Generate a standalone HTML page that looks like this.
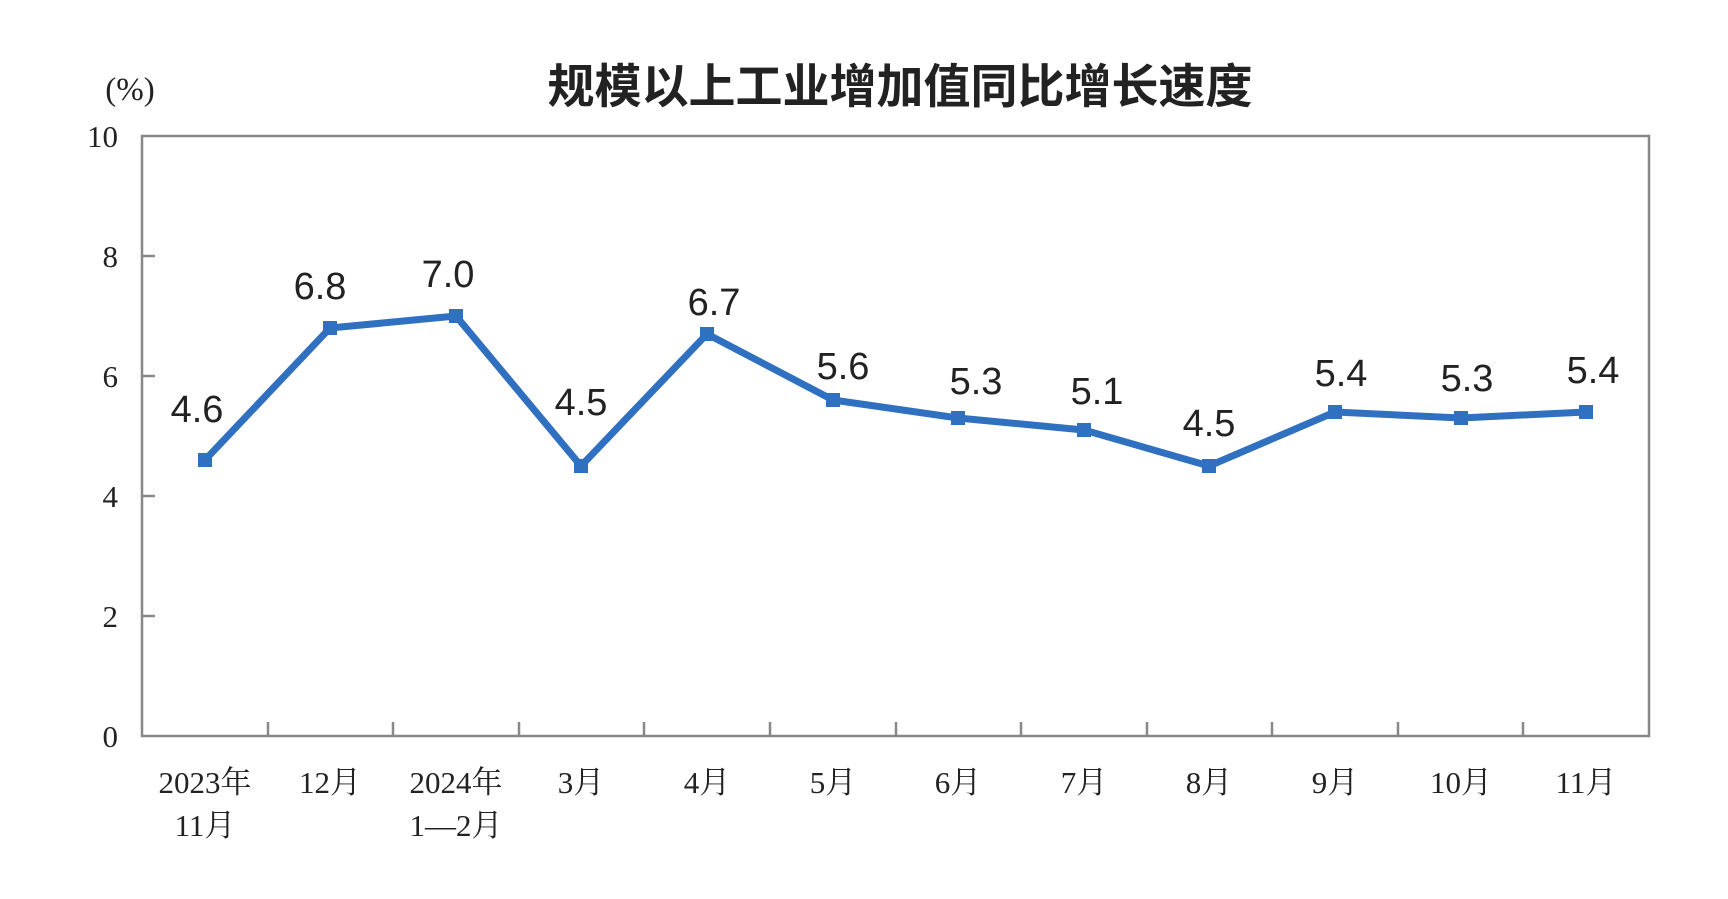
<!DOCTYPE html>
<html><head><meta charset="utf-8"><style>body{margin:0;background:#fff}</style></head><body>
<svg width="1728" height="894" xmlns="http://www.w3.org/2000/svg">
<rect width="1728" height="894" fill="#fff"/>
<text x="900" y="103" text-anchor="middle" font-family="'Noto Sans CJK SC',sans-serif" font-size="47" font-weight="bold" fill="#222">规模以上工业增加值同比增长速度</text>
<text x="130" y="100" text-anchor="middle" font-family="'Liberation Serif',serif" font-size="33" fill="#222">(%)</text>
<rect x="142" y="136" width="1507" height="600" fill="none" stroke="#888" stroke-width="2.5"/>
<g stroke="#888" stroke-width="2.5">
<line x1="142" y1="256" x2="155" y2="256"/><line x1="142" y1="376" x2="155" y2="376"/><line x1="142" y1="496" x2="155" y2="496"/><line x1="142" y1="616" x2="155" y2="616"/>
<line x1="268" y1="736" x2="268" y2="722"/><line x1="393" y1="736" x2="393" y2="722"/><line x1="519" y1="736" x2="519" y2="722"/><line x1="644" y1="736" x2="644" y2="722"/><line x1="770" y1="736" x2="770" y2="722"/><line x1="896" y1="736" x2="896" y2="722"/><line x1="1021" y1="736" x2="1021" y2="722"/><line x1="1147" y1="736" x2="1147" y2="722"/><line x1="1272" y1="736" x2="1272" y2="722"/><line x1="1398" y1="736" x2="1398" y2="722"/><line x1="1523" y1="736" x2="1523" y2="722"/>
</g>
<g font-family="'Liberation Serif',serif" font-size="31" fill="#222" text-anchor="end">
<text x="118" y="147">10</text><text x="118" y="267">8</text><text x="118" y="387">6</text><text x="118" y="507">4</text><text x="118" y="627">2</text><text x="118" y="747">0</text>
</g>
<g font-family="'Liberation Serif','Noto Serif CJK SC',serif" font-size="31" fill="#222" text-anchor="middle">
<text x="205" y="793">2023年</text><text x="205" y="836">11月</text>
<text x="330" y="793">12月</text>
<text x="456" y="793">2024年</text><text x="456" y="836">1—2月</text>
<text x="581" y="793">3月</text><text x="707" y="793">4月</text><text x="833" y="793">5月</text><text x="958" y="793">6月</text><text x="1084" y="793">7月</text><text x="1209" y="793">8月</text><text x="1335" y="793">9月</text><text x="1461" y="793">10月</text><text x="1586" y="793">11月</text>
</g>
<polyline fill="none" stroke="#3070c0" stroke-width="7" stroke-linejoin="round" points="205,460 330,328 456,316 581,466 707,334 833,400 958,418 1084,430 1209,466 1335,412 1461,418 1586,412"/>
<g fill="#3070c0">
<rect x="198" y="453" width="14" height="14"/><rect x="323" y="321" width="14" height="14"/><rect x="449" y="309" width="14" height="14"/><rect x="574" y="459" width="14" height="14"/><rect x="700" y="327" width="14" height="14"/><rect x="826" y="393" width="14" height="14"/><rect x="951" y="411" width="14" height="14"/><rect x="1077" y="423" width="14" height="14"/><rect x="1202" y="459" width="14" height="14"/><rect x="1328" y="405" width="14" height="14"/><rect x="1454" y="411" width="14" height="14"/><rect x="1579" y="405" width="14" height="14"/>
</g>
<g font-family="'Liberation Sans',sans-serif" font-size="38" fill="#222" text-anchor="middle">
<text x="197" y="422">4.6</text><text x="320" y="299">6.8</text><text x="448" y="287">7.0</text><text x="581" y="415">4.5</text><text x="714" y="315">6.7</text><text x="843" y="379">5.6</text><text x="976" y="394">5.3</text><text x="1097" y="404">5.1</text><text x="1209" y="436">4.5</text><text x="1341" y="386">5.4</text><text x="1467" y="391">5.3</text><text x="1593" y="383">5.4</text>
</g>
</svg>
</body></html>
